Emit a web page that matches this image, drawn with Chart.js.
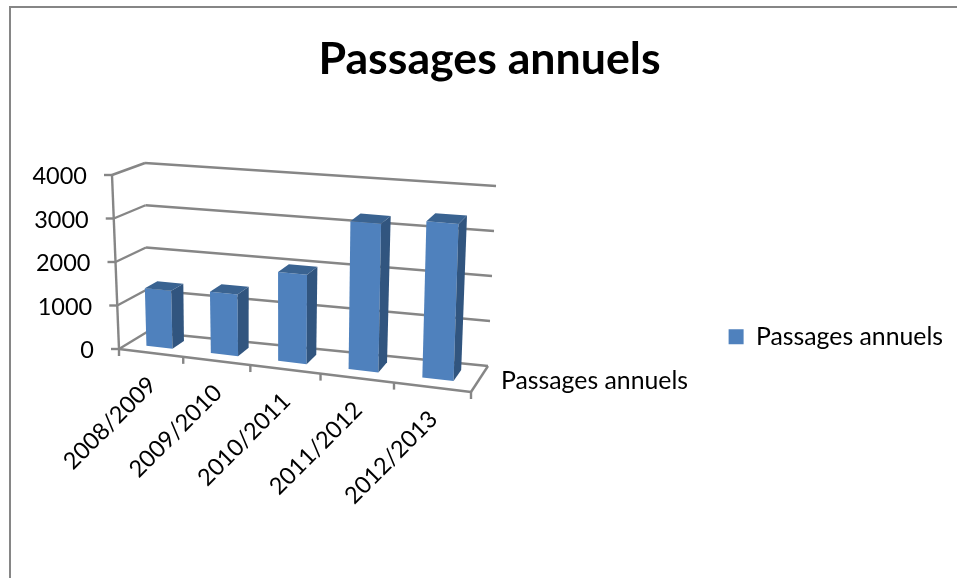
<!DOCTYPE html>
<html>
<head>
<meta charset="utf-8">
<title>Passages annuels</title>
<script src="https://cdn.jsdelivr.net/npm/chart.js@4/dist/chart.umd.min.js"></script>
<style>
  html, body { margin: 0; padding: 0; background: #fff; overflow: hidden; }
  canvas { display: block; }
</style>
</head>
<body>
<canvas id="chart" width="957" height="578"></canvas>
<script>
const chartTitle = 'Passages annuels';
const seriesName = 'Passages annuels';
const categories = ['2008/2009', '2009/2010', '2010/2011', '2011/2012', '2012/2013'];
const passages = [1330, 1400, 2000, 3280, 3415];

// corners of the 3D box on the page: front and back planes, bottom and top
const box = {
    frontBottomLeft: [119, 349], frontBottomRight: [471, 392],
    frontTopLeft: [112, 175], frontTopRight: [477, 205],
    backBottomLeft: [147, 332], backBottomRight: [488, 366],
    backTopLeft: [145, 163], backTopRight: [496, 186]
};
const gray = '#868686';
const labelFont = '23.5px Lato';

function lerp(a, b, t) {
    return [a[0] + (b[0] - a[0]) * t, a[1] + (b[1] - a[1]) * t];
}

// u along the categories, v along the values, d into the depth (all 0..1)
function project(u, v, d) {
    const w = u / (u + 1.12 * (1 - u));
    const front = lerp(lerp(box.frontBottomLeft, box.frontBottomRight, w), lerp(box.frontTopLeft, box.frontTopRight, w), v);
    const back = lerp(lerp(box.backBottomLeft, box.backBottomRight, w), lerp(box.backTopLeft, box.backTopRight, w), v);
    return lerp(front, back, d);
}

function line(ctx, a, b) {
    ctx.beginPath();
    ctx.moveTo(a[0], a[1]);
    ctx.lineTo(b[0], b[1]);
    ctx.stroke();
}

function face(ctx, color, pts) {
    ctx.fillStyle = color;
    ctx.beginPath();
    pts.forEach((p, i) => i ? ctx.lineTo(p[0], p[1]) : ctx.moveTo(p[0], p[1]));
    ctx.closePath();
    ctx.fill();
}

const box3d = {
    id: 'box3d',
    beforeDatasetsDraw(chart) {
        const ctx = chart.ctx, y = chart.scales.y;
        ctx.save();
        // outer frame of the chart
        ctx.strokeStyle = gray;
        ctx.lineWidth = 2;
        ctx.beginPath();
        ctx.moveTo(10, 578);
        ctx.lineTo(10, 7);
        ctx.lineTo(957, 7);
        ctx.stroke();

        ctx.lineWidth = 2.4;
        ctx.fillStyle = '#000';
        ctx.font = labelFont;
        ctx.textBaseline = 'middle';
        y.ticks.forEach(tick => {
            const v = tick.value / y.max;
            // gridlines on the side wall and the back wall
            line(ctx, project(0, v, 0), project(0, v, 1));
            line(ctx, project(0, v, 1), project(1, v, 1));
            const p = project(0, v, 0);
            line(ctx, p, [p[0] - 8, p[1]]);
            ctx.textAlign = 'right';
            ctx.fillText(String(tick.value), p[0] - 25, p[1] + 1.5);
        });
        line(ctx, project(0, 0, 0), project(0, 1, 0));
        line(ctx, project(0, 0, 0), project(1, 0, 0));
        line(ctx, project(1, 0, 0), project(1, 0, 1));

        // category ticks and slanted labels under the front edge
        const n = categories.length;
        for (let i = 0; i <= n; i++) {
            const p = project(i / n, 0, 0);
            line(ctx, p, [p[0], p[1] + 7]);
        }
        categories.forEach((label, i) => {
            const p = project((i + 0.5) / n, 0, 0);
            ctx.save();
            ctx.translate(p[0] + 1.5, p[1] + 28);
            ctx.rotate(-Math.PI / 4);
            ctx.textAlign = 'right';
            ctx.fillText(label, 0, 0);
            ctx.restore();
        });

        // depth axis label
        ctx.textAlign = 'left';
        ctx.font = '24.8px Lato';
        ctx.fillText(seriesName, 501, 381);
        ctx.restore();
    },
    beforeDatasetDraw(chart, args) {
        const ctx = chart.ctx, area = chart.chartArea;
        const near = 0.32, far = 0.75;
        args.meta.data.forEach(bar => {
            const u0 = (bar.x - bar.width / 2 - area.left) / area.width;
            const u1 = (bar.x + bar.width / 2 - area.left) / area.width;
            const v0 = (area.bottom - bar.base) / area.height;
            const v1 = (area.bottom - bar.y) / area.height;
            face(ctx, '#4f81bd', [project(u0, v0, near), project(u1, v0, near), project(u1, v1, near), project(u0, v1, near)]);
            face(ctx, '#31557f', [project(u1, v0, near), project(u1, v0, far), project(u1, v1, far), project(u1, v1, near)]);
            face(ctx, '#3a6391', [project(u0, v1, near), project(u1, v1, near), project(u1, v1, far), project(u0, v1, far)]);
        });
        return false;
    }
};

new Chart(document.getElementById('chart'), {
    type: 'bar',
    data: {
        labels: categories,
        datasets: [{
            label: seriesName,
            data: passages,
            backgroundColor: '#4f81bd',
            categoryPercentage: 1,
            barPercentage: 0.41
        }]
    },
    options: {
        responsive: false,
        animation: false,
        layout: { padding: { left: 26, right: 4, top: 33, bottom: 0 } },
        plugins: {
            title: {
                display: true,
                text: chartTitle,
                color: '#000',
                font: { family: 'Lato', size: 44.7, weight: 'bold' },
                padding: { top: 0, bottom: 9 }
            },
            legend: {
                position: 'right',
                fullSize: false,
                labels: {
                    color: '#000',
                    font: { family: 'Lato', size: 24.8 },
                    boxWidth: 15,
                    boxHeight: 15,
                    padding: 8
                }
            },
            tooltip: { enabled: false }
        },
        scales: {
            x: { display: false },
            y: { display: false, min: 0, max: 4000, ticks: { stepSize: 1000 } }
        }
    },
    plugins: [box3d]
});
</script>
</body>
</html>
